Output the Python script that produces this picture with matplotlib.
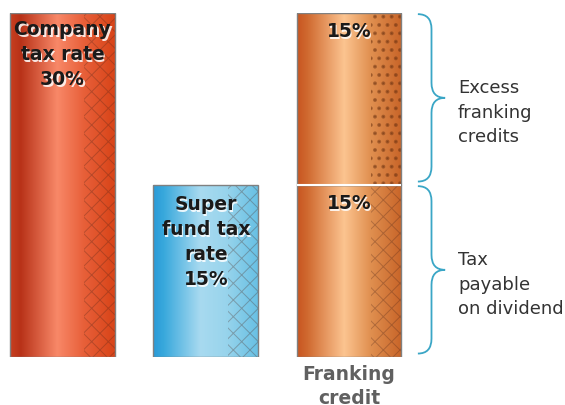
import numpy as np
import matplotlib
matplotlib.use('Agg')
import matplotlib.pyplot as plt
from matplotlib.colors import LinearSegmentedColormap
from matplotlib.path import Path
from matplotlib.patches import PathPatch
from matplotlib.transforms import offset_copy

plt.rcParams['font.family'] = ['DejaVu Sans']
plt.rcParams['hatch.linewidth'] = 0.7

# data
bar_labels = ['Company\ntax rate\n30%', 'Super\nfund tax\nrate\n15%']
bar_values = [30, 15]
franking_parts = [15, 15]          # tax payable, excess credits
franking_texts = ['15%', '15%']
brace_labels = ['Tax\npayable\non dividend', 'Excess\nfranking\ncredits']
xlabel = 'Franking\ncredit'

# gradient stops per bar (left -> right)
grads = [
    ['#c84020', '#b83218', '#f88868', '#e8603a', '#d84418'],
    ['#2a9ad8', '#38a8dc', '#a8daf0', '#98d4ec', '#68c0e4'],
    ['#c85520', '#d06a30', '#fcc490', '#e09050', '#c86428'],
]
stops = [0.0, 0.1, 0.45, 0.7, 1.0]

fig = plt.figure(figsize=(5.65, 4.05), dpi=100)
ax = fig.add_axes([0, 48 / 405, 1, 344 / 405])
ax.set_axis_off()

w = 0.73
hatch_frac = 0.29
grad = np.linspace(0, 1, 256).reshape(1, -1)


def grad_bar(x, bottom, height, colors, hatch, hcol=(0.3, 0.15, 0.1, 0.3)):
    cmap = LinearSegmentedColormap.from_list('g', list(zip(stops, colors)))
    b = ax.bar(x, height, w, bottom=bottom, color='none', edgecolor='#808080',
               linewidth=1.0, zorder=3)[0]
    im = ax.imshow(grad, cmap=cmap, aspect='auto', zorder=1,
                   extent=(x - w / 2, x + w / 2, bottom, bottom + height))
    im.set_clip_path(b)
    ax.bar(x + w / 2 - w * hatch_frac / 2, height, w * hatch_frac, bottom=bottom,
           color='none', edgecolor=hcol, hatch=hatch, linewidth=0, zorder=2)


for i, v in enumerate(bar_values):
    grad_bar(i, 0, v, grads[i], 'xx')

fx = len(bar_values)
grad_bar(fx, 0, franking_parts[0], grads[2], 'xx')
plt.rcParams['hatch.linewidth'] = 1.6
grad_bar(fx, franking_parts[0], franking_parts[1], grads[2], '..', (0.4, 0.18, 0.06, 0.45))
ax.hlines(franking_parts[0], fx - w / 2, fx + w / 2, color='white', lw=1.5, zorder=4)

shadow_tr = offset_copy(ax.transData, fig=fig, x=1.0, y=-1.0, units='points')


def bar_text(x, y, s):
    kw = dict(ha='center', va='top', fontsize=13.5, fontweight='bold', linespacing=1.4)
    ax.text(x, y, s, color='white', alpha=0.85, transform=shadow_tr, zorder=5, **kw)
    ax.text(x, y, s, color='#1a1a1a', zorder=6, **kw)


for i, v in enumerate(bar_values):
    bar_text(i, v - 0.65 if i == 0 else v - 0.9, bar_labels[i])
bottom = 0
for part, t in zip(franking_parts, franking_texts):
    bar_text(fx, bottom + part - 0.8, t)
    bottom += part

ax.text(fx, -0.7, xlabel, ha='center', va='top', fontsize=13.5, fontweight='bold',
        color='#606060', linespacing=1.3, clip_on=False)


def brace(y0, y1, xl=2.48, xm=2.575, xt=2.67, d=1.3):
    mid = (y0 + y1) / 2
    verts = [(xl, y1), (xm, y1), (xm, y1 - d), (xm, mid + d), (xm, mid), (xt, mid),
             (xm, mid), (xm, mid - d), (xm, y0 + d), (xm, y0), (xl, y0)]
    codes = [Path.MOVETO, Path.CURVE3, Path.CURVE3, Path.LINETO, Path.CURVE3, Path.CURVE3,
             Path.CURVE3, Path.CURVE3, Path.LINETO, Path.CURVE3, Path.CURVE3]
    ax.add_patch(PathPatch(Path(verts, codes), fill=False, edgecolor='#3aa6c6', lw=1.3))


bottom = 0
for part, lab in zip(franking_parts, brace_labels):
    brace(bottom + 0.3, bottom + part - 0.1)
    ax.text(2.76, bottom + part / 2 - 1.2, lab, ha='left', va='center', fontsize=13,
            color='#333333', linespacing=1.45)
    bottom += part

ax.set_xlim(-62.5 / 143.3, (565 - 62.5) / 143.3)
ax.set_ylim(0, 30)

fig.savefig('out.png', dpi=100)
